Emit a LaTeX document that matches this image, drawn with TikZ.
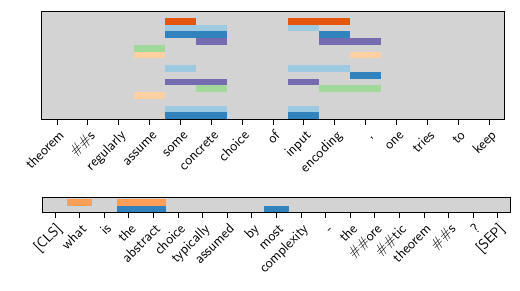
\documentclass[tikz,border=0pt]{standalone}
\usepackage{fontspec}
\usepackage{graphicx}
\setmainfont{DejaVu Sans}
\definecolor{bggray}{HTML}{D3D3D3}
\definecolor{tred}{HTML}{E6550D}
\definecolor{tlblue}{HTML}{9ECAE1}
\definecolor{tdblue}{HTML}{3182BD}
\definecolor{tpurple}{HTML}{756BB1}
\definecolor{tgreen}{HTML}{A1D99B}
\definecolor{tpeach}{HTML}{FDD0A2}
\definecolor{torange}{HTML}{FB9E58}
\newcommand{\xdummy}{\hbox to 0pt{\special{pdf:bxobj @dmy width 1pt height 1pt depth 0pt}\hbox{\vrule width0pt height1pt}\special{pdf:exobj}\hss}\hbox to 0pt{\special{pdf:uxobj @dmy}\hss}}
\newcommand{\rl}[1]{\rotatebox{45}{\usefont{OT1}{cmss}{m}{n}\fontsize{14.5}{16}\selectfont\vrule width0pt height11pt depth3pt\relax #1}}
\begin{document}
\begin{tikzpicture}[x=1pt,y=1pt,
  panelbg/.style={fill=bggray,draw=none},
  panelframe/.style={draw=black,line width=0.9pt},
  tickline/.style={line width=0.8pt,black},
  lab/.style={anchor=north east,inner sep=0pt,outer sep=0pt,xshift=9.9pt}]
\useasboundingbox (0,0) rectangle (520,-291);
% ---------- top panel ----------
\def\L{41.6}\def\cw{30.86}\def\T{11.2}\def\rh{6.74}
\fill[panelbg] (\L,-\T) rectangle (\L+15*\cw,-119);
\foreach \r/\a/\b/\c in {1/4/4/tred,1/8/9/tred,
  2/4/5/tlblue,2/8/8/tlblue,
  3/4/5/tdblue,3/9/9/tdblue,
  4/5/5/tpurple,4/9/10/tpurple,
  5/3/3/tgreen,
  6/3/3/tpeach,6/10/10/tpeach,
  8/4/4/tlblue,8/8/9/tlblue,
  9/10/10/tdblue,
  10/4/5/tpurple,10/8/8/tpurple,
  11/5/5/tgreen,11/9/10/tgreen,
  12/3/3/tpeach,
  14/4/5/tlblue,14/8/8/tlblue,
  15/4/5/tdblue,15/8/8/tdblue}
  \fill[\c] (\L+\a*\cw,-\T-\r*\rh) rectangle (\L+\b*\cw+\cw,-\T-\r*\rh-\rh);
\draw[panelframe] (\L,-\T) rectangle (\L+15*\cw,-119);
\foreach \i in {0,...,14}
  \draw[tickline] (57+\i*\cw,-119) -- ++(0,-6);
\node[lab] (t0) at (57+0*\cw,-128.5) {\xdummy\rl{theorem}};
\node[lab] (t1) at (57+1*\cw,-128.5) {\rl{\#\#s}};
\node[lab] (t2) at (57+2*\cw,-128.5) {\rl{regularly}};
\node[lab] (t3) at (57+3*\cw,-128.5) {\rl{assume}};
\node[lab] (t4) at (57+4*\cw,-128.5) {\rl{some}};
\node[lab] (t5) at (57+5*\cw,-128.5) {\rl{concrete}};
\node[lab] (t6) at (57+6*\cw,-128.5) {\rl{choice}};
\node[lab] (t7) at (57+7*\cw,-128.5) {\rl{of}};
\node[lab] (t8) at (57+8*\cw,-128.5) {\rl{input}};
\node[lab] (t9) at (57+9*\cw,-128.5) {\rl{encoding}};
\node[lab] (t10) at (57+10*\cw,-128.5) {\rl{,}};
\node[lab] (t11) at (57+11*\cw,-128.5) {\rl{one}};
\node[lab] (t12) at (57+12*\cw,-128.5) {\rl{tries}};
\node[lab] (t13) at (57+13*\cw,-128.5) {\rl{to}};
\node[lab] (t14) at (57+14*\cw,-128.5) {\rl{keep}};
% ---------- bottom panel ----------
\def\LL{42.7}\def\cwb{24.6}
\fill[panelbg] (\LL,-197.5) rectangle (\LL+19*\cwb,-212.5);
\foreach \a/\b/\y/\yy/\c in {1/1/199/205.7/torange,3/4/199/205.7/torange,
  3/4/205.7/212.5/tdblue,9/9/205.7/212.5/tdblue}
  \fill[\c] (\LL+\a*\cwb,-\y) rectangle (\LL+\b*\cwb+\cwb,-\yy);
\draw[panelframe] (\LL,-197.5) rectangle (\LL+19*\cwb,-212.5);
\foreach \i in {0,...,18}
  \draw[tickline] (55+\i*\cwb,-212.5) -- ++(0,-6);
\node[lab] (b0) at (55+0*\cwb,-222) {\rl{[CLS]}};
\node[lab] (b1) at (55+1*\cwb,-222) {\rl{what}};
\node[lab] (b2) at (55+2*\cwb,-222) {\rl{is}};
\node[lab] (b3) at (55+3*\cwb,-222) {\rl{the}};
\node[lab] (b4) at (55+4*\cwb,-222) {\rl{abstract}};
\node[lab] (b5) at (55+5*\cwb,-222) {\rl{choice}};
\node[lab] (b6) at (55+6*\cwb,-222) {\rl{typically}};
\node[lab] (b7) at (55+7*\cwb,-222) {\rl{assumed}};
\node[lab] (b8) at (55+8*\cwb,-222) {\rl{by}};
\node[lab] (b9) at (55+9*\cwb,-222) {\rl{most}};
\node[lab] (b10) at (55+10*\cwb,-222) {\rl{complexity}};
\node[lab] (b11) at (55+11*\cwb,-222) {\rl{-}};
\node[lab] (b12) at (55+12*\cwb,-222) {\rl{the}};
\node[lab] (b13) at (55+13*\cwb,-222) {\rl{\#\#ore}};
\node[lab] (b14) at (55+14*\cwb,-222) {\rl{\#\#tic}};
\node[lab] (b15) at (55+15*\cwb,-222) {\rl{theorem}};
\node[lab] (b16) at (55+16*\cwb,-222) {\rl{\#\#s}};
\node[lab] (b17) at (55+17*\cwb,-222) {\rl{?}};
\node[lab] (b18) at (55+18*\cwb,-222) {\rl{[SEP]}};
\end{tikzpicture}
\end{document}
